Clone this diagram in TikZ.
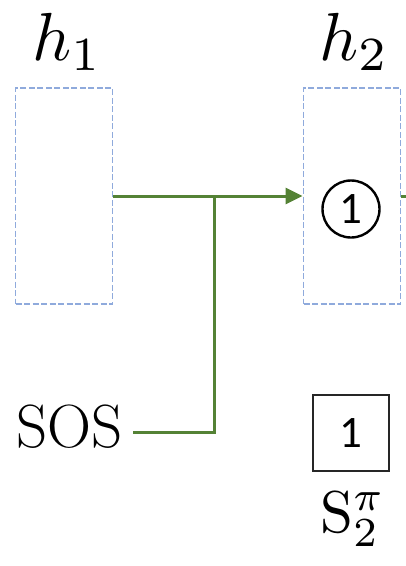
\documentclass[tikz,border=0pt]{standalone}
\usepackage{graphicx}
\usepackage{fontspec}
\newfontfamily\digito{Carlito}
\usetikzlibrary{arrows.meta}
\definecolor{azulcaixa}{HTML}{8FAADC}
\definecolor{verdefluxo}{HTML}{548235}
\begin{document}
\begin{tikzpicture}[x=1pt,y=-1pt,
  estado/.style={draw=azulcaixa,dash pattern=on 6pt off 2.5pt,line width=1.8pt,minimum width=97pt,minimum height=216pt,inner sep=0pt},
  fluxo/.style={draw=verdefluxo,line width=3pt},
  rotulo/.style={inner sep=0pt,anchor=base}]
\useasboundingbox (0,0) rectangle (406,566);
%estados
  \node[estado] (h1) at (64,196) {};
  \node[estado] (h2) at (352,196) {};
  \node[rotulo] (nomeh1) at (67,60) {\scalebox{6.8}{$h_1$}};
  \node[rotulo] (nomeh2) at (354,60) {\scalebox{6.8}{$h_2$}};
%entrada
  \node[font=\fontsize{61}{61}\selectfont,anchor=east,inner xsep=10pt,inner ysep=0pt,text height=30pt,text depth=0pt] (sos) at (133,432) {SOS};
  \coordinate (juncao) at (214,196);
  \coordinate (saida) at (412,196);
%ligacoes
  \draw[fluxo,-{Triangle[length=17pt,width=16pt]}] (h1.east) -- (h2.west);
  \draw[fluxo] (sos.east) -| (juncao);
  \draw[fluxo] (h2.east) -- (saida);
%saida escolhida
  \node[circle,draw,line width=2.4pt,minimum size=57pt,inner sep=0pt,font=\digito\fontsize{45}{45}\selectfont] (um) at (351,209) {1};
  \node[draw=black!85,line width=1.5pt,minimum size=76pt,inner sep=0pt,font=\digito\fontsize{45}{45}\selectfont] (caixaum) at (351,433) {1};
  \node[rotulo] (seq) at (353,532) {\scalebox{5.9}{$\mathrm{S}_2^\pi$}};
\end{tikzpicture}
\end{document}
